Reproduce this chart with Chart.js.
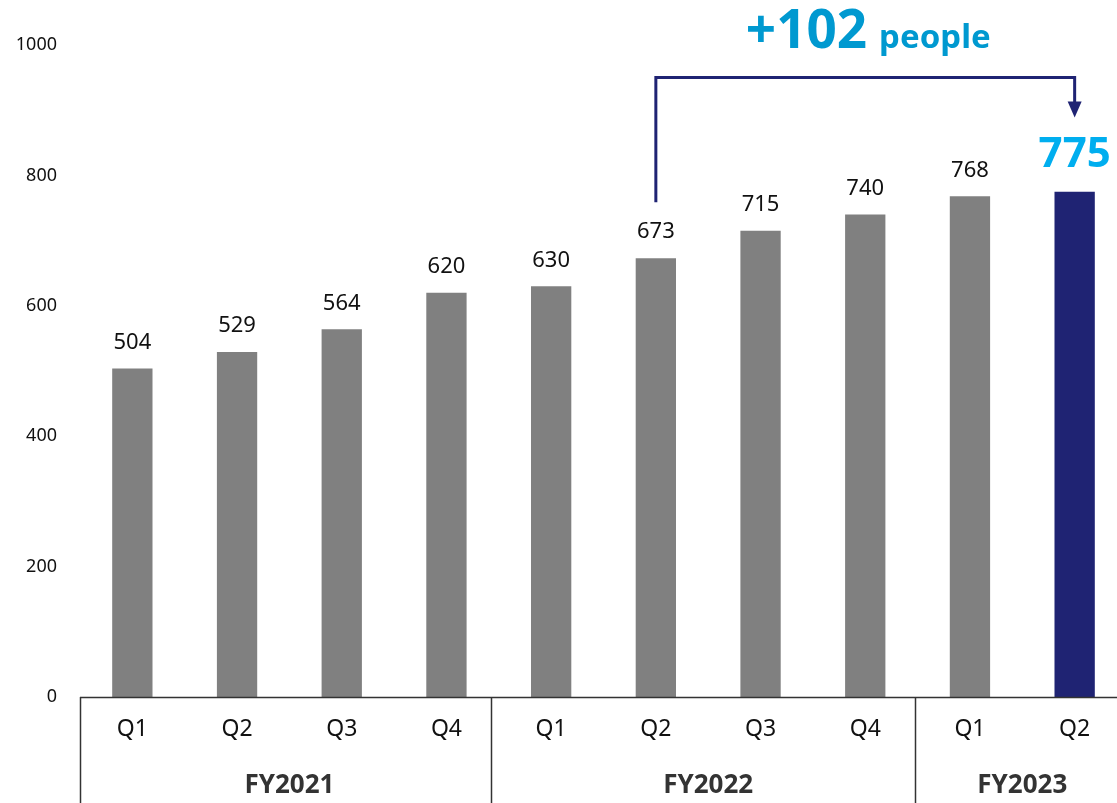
<!DOCTYPE html>
<html>
<head>
<meta charset="utf-8">
<script src="https://cdn.jsdelivr.net/npm/chart.js@4/dist/chart.umd.min.js"></script>
<style>
 body{margin:0;overflow:hidden;background:#fff;}
 #wrap{position:absolute;left:0;top:0;width:1130px;height:803px;}
</style>
</head>
<body>
<div id="wrap"><canvas id="canvasPlantilla" width="1130" height="803"></canvas></div>
<script>
//Datos del grafico
const trimestres = ["Q1","Q2","Q3","Q4","Q1","Q2","Q3","Q4","Q1","Q2"];
const anios = ["FY2021","FY2022","FY2023"];
const trimestresPorAnio = [4,4,2];
const personas = [504,529,564,620,630,673,715,740,768,775];
const ticksY = [0,200,400,600,800,1000];
const textoAumento = ["+102", "people"];

//Colores
const gris = "#808080";
const azulOscuro = "#1F2373";
const celeste = "#00AEEF";
const celesteTitulo = "#0099D0";
const fuente = "'Noto Sans', 'Open Sans', sans-serif";

let coloresBarras = [];
for (let i = 0; i < personas.length; i++) {
  coloresBarras.push(i == personas.length - 1 ? azulOscuro : gris);
}

//Plugin para dibujar etiquetas, ejes de categorias y la flecha
const pluginExtras = {
  id: "extras",
  afterDatasetsDraw(chart) {
    const ctx = chart.ctx;
    const x = chart.scales.x;
    const y = chart.scales.y;
    const area = chart.chartArea;
    const meta = chart.getDatasetMeta(0);
    const paso = x.getPixelForValue(1) - x.getPixelForValue(0);

    //Etiquetas de valores
    ctx.save();
    ctx.textAlign = "center";
    ctx.textBaseline = "middle";
    for (let i = 0; i < personas.length; i++) {
      const bar = meta.data[i];
      if (i == personas.length - 1) {
        ctx.font = "bold 42px " + fuente;
        ctx.fillStyle = celeste;
        ctx.fillText(personas[i], bar.x, bar.y - 37);
      } else {
        ctx.font = "22px " + fuente;
        ctx.fillStyle = "#111";
        ctx.fillText(personas[i], bar.x, bar.y - 26);
      }
    }

    //Eje X y cajas de categorias
    ctx.strokeStyle = "#333";
    ctx.lineWidth = 1.5;
    ctx.beginPath();
    ctx.moveTo(area.left, area.bottom + 0.5);
    ctx.lineTo(area.right, area.bottom + 0.5);
    ctx.stroke();

    ctx.font = "23px " + fuente;
    ctx.fillStyle = "#111";
    for (let i = 0; i < trimestres.length; i++) {
      ctx.fillText(trimestres[i], x.getPixelForValue(i), area.bottom + 32);
    }

    let inicio = 0;
    ctx.font = "bold 26px " + fuente;
    ctx.fillStyle = "#333";
    for (let j = 0; j < anios.length; j++) {
      const izq = x.getPixelForValue(inicio) - paso / 2;
      const fin = inicio + trimestresPorAnio[j] - 1;
      const der = x.getPixelForValue(fin) + paso / 2;
      const xl = j == 0 ? izq : (j == 1 ? izq - 8 : izq - 3);
      ctx.beginPath();
      ctx.moveTo(Math.round(xl) + 0.5, area.bottom);
      ctx.lineTo(Math.round(xl) + 0.5, chart.height);
      ctx.stroke();
      const centro = (x.getPixelForValue(inicio) + x.getPixelForValue(fin)) / 2;
      ctx.fillText(anios[j], centro, area.bottom + 89);
      inicio = fin + 1;
    }

    //Flecha de aumento
    const xa = x.getPixelForValue(5);
    const xb = x.getPixelForValue(personas.length - 1);
    const yTop = y.getPixelForValue(950);
    ctx.strokeStyle = azulOscuro;
    ctx.fillStyle = azulOscuro;
    ctx.lineWidth = 3;
    ctx.beginPath();
    ctx.moveTo(xa, meta.data[5].y - 56);
    ctx.lineTo(xa, yTop);
    ctx.lineTo(xb, yTop);
    ctx.lineTo(xb, yTop + 26);
    ctx.stroke();
    ctx.beginPath();
    ctx.moveTo(xb - 7, yTop + 24);
    ctx.lineTo(xb + 7, yTop + 24);
    ctx.lineTo(xb, yTop + 40);
    ctx.closePath();
    ctx.fill();

    //Titulo +102 people
    ctx.fillStyle = celesteTitulo;
    ctx.textBaseline = "alphabetic";
    ctx.textAlign = "left";
    ctx.font = "bold 53px " + fuente;
    const w1 = ctx.measureText(textoAumento[0]).width;
    ctx.font = "bold 33px " + fuente;
    const w2 = ctx.measureText(textoAumento[1]).width;
    const total = w1 + 12 + w2;
    const xc = (xa + xb) / 2 + 3 - total / 2;
    ctx.font = "bold 53px " + fuente;
    ctx.fillText(textoAumento[0], xc, 48);
    ctx.font = "bold 33px " + fuente;
    ctx.fillText(textoAumento[1], xc + w1 + 12, 48);
    ctx.restore();
  }
};

var canvas = document.getElementById("canvasPlantilla");
let grafico = new Chart(canvas, {
  type: "bar",
  data: {
    labels: trimestres,
    datasets: [{
      data: personas,
      backgroundColor: coloresBarras,
      borderWidth: 0,
      barPercentage: 0.385,
      categoryPercentage: 1
    }]
  },
  options: {
    responsive: false,
    animation: false,
    layout: { padding: { top: 45, bottom: 106, right: 3, left: 0 } },
    plugins: { legend: { display: false }, tooltip: { enabled: false } },
    scales: {
      x: { display: false },
      y: {
        min: 0,
        max: 1000,
        afterFit: (scale) => { scale.width = 80; },
        afterBuildTicks: (scale) => { scale.ticks = ticksY.map(v => ({ value: v })); },
        grid: { display: false, drawTicks: false },
        border: { display: false },
        ticks: {
          padding: 23,
          color: "#111",
          font: { family: fuente, size: 18 },
          callback: (v) => String(v)
        }
      }
    }
  },
  plugins: [pluginExtras]
});
</script>
</body>
</html>
